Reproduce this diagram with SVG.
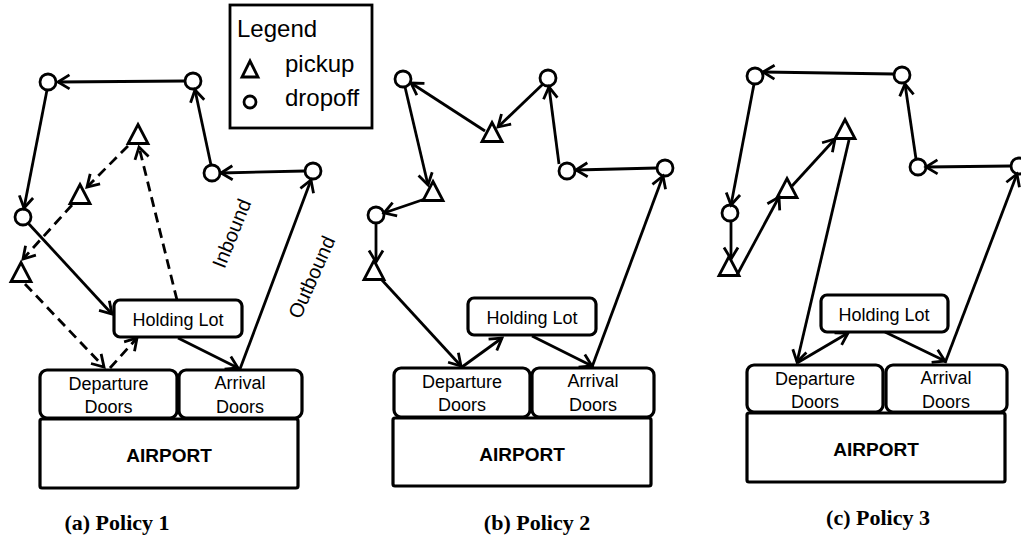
<svg xmlns="http://www.w3.org/2000/svg" xmlns:xlink="http://www.w3.org/1999/xlink" width="1021" height="544" viewBox="0 0 1021 544">
<style>
.bg{fill:#fff}
.box{fill:#fff;stroke:#000;stroke-width:3.2}
.pt{fill:#fff;stroke:#000;stroke-width:2.8}
.ln{fill:none;stroke:#000;stroke-width:2.8;marker-end:url(#ah)}
.dash{stroke-dasharray:10 6}
.lbl{font-family:"Liberation Sans",Arial,sans-serif;font-size:18px;fill:#000;text-anchor:middle}
.rot{font-family:"Liberation Sans",Arial,sans-serif;font-size:20px;fill:#000;text-anchor:middle}
.ap{font-family:"Liberation Sans",Arial,sans-serif;font-size:19px;font-weight:bold;fill:#000;text-anchor:middle}
.leg{font-family:"Liberation Sans",Arial,sans-serif;font-size:24px;fill:#000}
.cap{font-family:"Liberation Serif","Times New Roman",serif;font-size:22px;font-weight:bold;fill:#000;text-anchor:middle}
</style>
<defs>
<marker id="ah" viewBox="-14 -9 17 18" refX="0" refY="0" markerWidth="17" markerHeight="18" markerUnits="userSpaceOnUse" orient="auto" overflow="visible">
<path d="M-11.5,-7 L0,0 L-11.5,7" fill="none" stroke="#000" stroke-width="2.8"/>
</marker>
<path id="tri" d="M0,-10.5 L10,8.5 L-10,8.5 Z"/>
</defs>
<rect class="bg" x="0" y="0" width="1021" height="544"/>

<!-- Legend -->
<g id="legend">
<rect x="230" y="5" width="142" height="123" fill="#fff" stroke="#000" stroke-width="2.8"/>
<text class="leg" x="237" y="37">Legend</text>
<path d="M250,61 L258,77 L242,77 Z" class="pt" stroke-width="2.5"/>
<text class="leg" x="285" y="72">pickup</text>
<circle cx="250" cy="102" r="6" class="pt" stroke-width="3"/>
<text class="leg" x="285" y="106">dropoff</text>
</g>

<!-- ===== Panel (a) ===== -->
<g id="a-airport"><rect class="box" x="40" y="419" width="258" height="69" rx="2"/><text class="ap" x="169" y="462">AIRPORT</text></g>
<g id="a-departure"><rect class="box" x="40" y="370" width="137" height="48" rx="7"/><text class="lbl" x="108.5" y="390">Departure</text><text class="lbl" x="108.5" y="413">Doors</text></g>
<g id="a-arrival"><rect class="box" x="179" y="370" width="123" height="48" rx="7"/><text class="lbl" x="240" y="389">Arrival</text><text class="lbl" x="240" y="413">Doors</text></g>
<g id="a-holding"><rect class="box" x="114" y="300" width="128" height="37" rx="6"/><text class="lbl" x="178" y="326">Holding Lot</text></g>
<g id="a-d1"><circle class="pt" cx="48" cy="82" r="8"/></g>
<g id="a-d2"><circle class="pt" cx="193" cy="81" r="8"/></g>
<g id="a-d3"><circle class="pt" cx="212" cy="173" r="8"/></g>
<g id="a-d4"><circle class="pt" cx="313" cy="171" r="8"/></g>
<g id="a-d5"><circle class="pt" cx="23" cy="217" r="8"/></g>
<g id="a-p1"><use xlink:href="#tri" class="pt" x="138" y="135"/></g>
<g id="a-p2"><use xlink:href="#tri" class="pt" x="80" y="195"/></g>
<g id="a-p3"><use xlink:href="#tri" class="pt" x="21" y="273"/></g>
<text class="rot" transform="translate(238,236) rotate(-68)">Inbound</text>
<text class="rot" transform="translate(318,280) rotate(-66)">Outbound</text>

<!-- ===== Panel (b) ===== -->
<g id="b-airport"><rect class="box" x="393" y="418" width="258" height="68" rx="2"/><text class="ap" x="522" y="461">AIRPORT</text></g>
<g id="b-departure"><rect class="box" x="394" y="368" width="136" height="49" rx="7"/><text class="lbl" x="462" y="388">Departure</text><text class="lbl" x="462" y="411">Doors</text></g>
<g id="b-arrival"><rect class="box" x="532" y="368" width="122" height="49" rx="7"/><text class="lbl" x="593" y="387">Arrival</text><text class="lbl" x="593" y="411">Doors</text></g>
<g id="b-holding"><rect class="box" x="468" y="298" width="128" height="37" rx="6"/><text class="lbl" x="532" y="324">Holding Lot</text></g>
<g id="b-d1"><circle class="pt" cx="403" cy="79" r="8"/></g>
<g id="b-d2"><circle class="pt" cx="548" cy="78" r="8"/></g>
<g id="b-d3"><circle class="pt" cx="567" cy="171" r="8"/></g>
<g id="b-d4"><circle class="pt" cx="665" cy="168" r="8"/></g>
<g id="b-d5"><circle class="pt" cx="376" cy="215" r="8"/></g>
<g id="b-p1"><use xlink:href="#tri" class="pt" x="492" y="133"/></g>
<g id="b-p2"><use xlink:href="#tri" class="pt" x="433" y="192"/></g>
<g id="b-p3"><use xlink:href="#tri" class="pt" x="374" y="271"/></g>

<!-- ===== Panel (c) ===== -->
<g id="c-airport"><rect class="box" x="747" y="413" width="258" height="69" rx="2"/><text class="ap" x="876" y="456">AIRPORT</text></g>
<g id="c-departure"><rect class="box" x="747" y="365" width="136" height="47" rx="7"/><text class="lbl" x="815" y="385">Departure</text><text class="lbl" x="815" y="408">Doors</text></g>
<g id="c-arrival"><rect class="box" x="886" y="365" width="121" height="47" rx="7"/><text class="lbl" x="946" y="384">Arrival</text><text class="lbl" x="946" y="408">Doors</text></g>
<g id="c-holding"><rect class="box" x="821" y="295" width="127" height="37" rx="6"/><text class="lbl" x="884" y="321">Holding Lot</text></g>
<g id="c-d1"><circle class="pt" cx="755" cy="76" r="8"/></g>
<g id="c-d2"><circle class="pt" cx="902" cy="75" r="8"/></g>
<g id="c-d3"><circle class="pt" cx="918" cy="167" r="8"/></g>
<g id="c-d4"><circle class="pt" cx="1019" cy="166" r="8"/></g>
<g id="c-d5"><circle class="pt" cx="730" cy="213" r="8"/></g>
<g id="c-p1"><use xlink:href="#tri" class="pt" x="845" y="130"/></g>
<g id="c-p2"><use xlink:href="#tri" class="pt" x="787" y="189"/></g>
<g id="c-p3"><use xlink:href="#tri" class="pt" x="729" y="267"/></g>

<!-- Connectors -->
<g id="connectors">
<path class="ln" d="M185,81 L58,82"/>
<path class="ln" d="M47,90 L24,208"/>
<path class="ln" d="M211,165 L195,90"/>
<path class="ln" d="M305,171 L221,173"/>
<path class="ln" d="M240,369 L311,180"/>
<path class="ln" d="M28,223 L112,314"/>
<path class="ln" d="M178,338 L238,368"/>
<path class="ln dash" d="M128,146 L87,187"/>
<path class="ln dash" d="M72,205 L23,259"/>
<path class="ln dash" d="M177,300 L139,147"/>
<path class="ln dash" d="M25,284 L104,367"/>
<path class="ln dash" d="M110,368 L137,338"/>

<path class="ln" d="M485,131 L411,83"/>
<path class="ln" d="M543,84 L498,127"/>
<path class="ln" d="M559,164 L549,87"/>
<path class="ln" d="M657,168 L576,170"/>
<path class="ln" d="M592,367 L663,176"/>
<path class="ln" d="M405,87 L428,185"/>
<path class="ln" d="M425,199 L384,213"/>
<path class="ln" d="M376,223 L376,262"/>
<path class="ln" d="M381,279 L461,366"/>
<path class="ln" d="M462,367 L502,338"/>
<path class="ln" d="M532,336 L592,366"/>

<path class="ln" d="M894,74 L763,72"/>
<path class="ln" d="M916,159 L905,84"/>
<path class="ln" d="M1011,166 L926,167"/>
<path class="ln" d="M754,84 L731,205"/>
<path class="ln" d="M731,221 L731,259"/>
<path class="ln" d="M737,275 L779,197"/>
<path class="ln" d="M792,186 L835,139"/>
<path class="ln" d="M849,140 L797,362"/>
<path class="ln" d="M797,363 L848,333"/>
<path class="ln" d="M885,332 L945,361"/>
<path class="ln" d="M945,363 L1017,174"/>
</g>

<!-- Captions -->
<text class="cap" x="117" y="530">(a) Policy 1</text>
<text class="cap" x="537" y="530">(b) Policy 2</text>
<text class="cap" x="878" y="525">(c) Policy 3</text>
</svg>
